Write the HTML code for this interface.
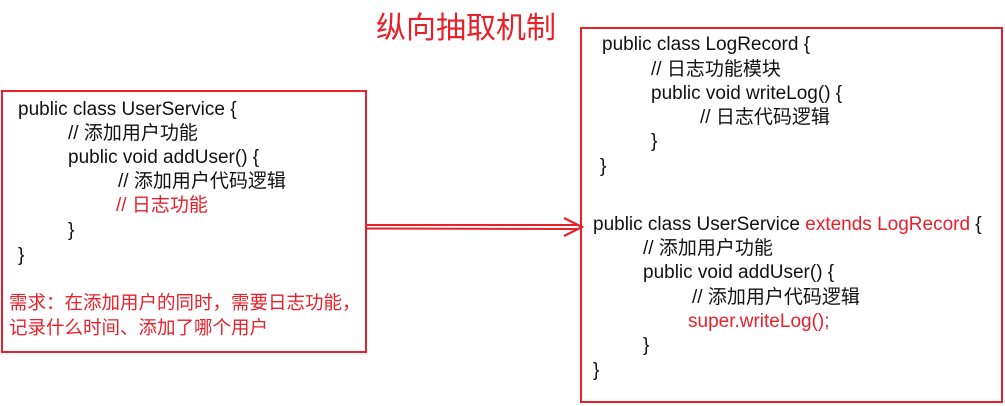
<!DOCTYPE html>
<html><head><meta charset="utf-8"><style>
body{margin:0;width:1005px;height:406px;background:#fff;position:relative;overflow:hidden;font-family:"Liberation Sans","Noto Sans CJK SC",sans-serif;}
.t{position:absolute;font-size:19px;line-height:22px;color:#111;white-space:nowrap;transform:translateY(-11px);}
.c{font-size:18.5px;}
.r{color:#e8202a;}
</style></head><body>
<div style="position:absolute;left:376px;top:6px;font-size:30px;line-height:38px;color:#e8202a;font-family:'Noto Sans CJK SC',sans-serif">纵向抽取机制</div>
<svg width="1005" height="406" style="position:absolute;left:0;top:0">
<rect x="2" y="91" width="364" height="261" fill="none" stroke="#e8202a" stroke-width="2"/>
<rect x="581" y="28" width="421" height="374" fill="none" stroke="#e8202a" stroke-width="2"/>
<line x1="366" y1="225" x2="578" y2="225" stroke="#e8202a" stroke-width="2"/>
<line x1="366" y1="228.5" x2="578" y2="229" stroke="#e8202a" stroke-width="2"/>
<polyline points="564,218 582,227 564,236" fill="none" stroke="#e8202a" stroke-width="2.2"/>
</svg>
<div class="t" style="left:18px;top:110px">public class UserService {</div>
<div class="t" style="left:68px;top:134px">// 添加用户功能</div>
<div class="t" style="left:68px;top:158px">public void addUser() {</div>
<div class="t" style="left:118px;top:182px">// 添加用户代码逻辑</div>
<div class="t r" style="left:116px;top:206px">// 日志功能</div>
<div class="t" style="left:68px;top:231px">}</div>
<div class="t" style="left:18px;top:256px">}</div>
<div class="t r c" style="left:9px;top:303px">需求：在添加用户的同时，需要日志功能，</div>
<div class="t r c" style="left:9px;top:328px">记录什么时间、添加了哪个用户</div>

<div class="t" style="left:602px;top:45px">public class LogRecord {</div>
<div class="t" style="left:651px;top:70px">// 日志功能模块</div>
<div class="t" style="left:651px;top:94px">public void writeLog() {</div>
<div class="t" style="left:700px;top:118px">// 日志代码逻辑</div>
<div class="t" style="left:651px;top:142px">}</div>
<div class="t" style="left:600px;top:167px">}</div>
<div class="t" style="left:593px;top:225px">public class UserService <span class="r">extends LogRecord</span> {</div>
<div class="t" style="left:643px;top:249px">// 添加用户功能</div>
<div class="t" style="left:643px;top:273px">public void addUser() {</div>
<div class="t" style="left:692px;top:298px">// 添加用户代码逻辑</div>
<div class="t r" style="left:688px;top:322px">super.writeLog();</div>
<div class="t" style="left:643px;top:346px">}</div>
<div class="t" style="left:593px;top:371px">}</div>
</body></html>
